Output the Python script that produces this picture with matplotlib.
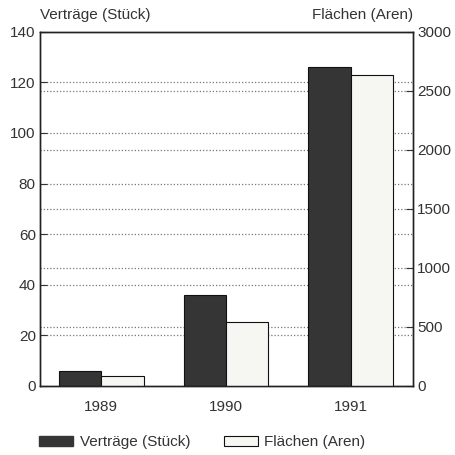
import matplotlib.pyplot as plt
import matplotlib.transforms as mtransforms
from matplotlib.patches import Patch
import numpy as np

# data
years = ["1989", "1990", "1991"]
vertraege = [6, 36, 126]          # Stück, left axis
flaechen = [87, 545, 2636]        # Aren, right axis
left_ticks = [0, 20, 40, 60, 80, 100, 120, 140]
right_ticks = [0, 500, 1000, 1500, 2000, 2500, 3000]

plt.rcParams["font.family"] = ["Liberation Sans", "DejaVu Sans"]
text_col = "#333333"
dark = "#353535"
light = "#f6f6f2"
fs = 11

fig = plt.figure(figsize=(4.55, 4.55), dpi=100)
ax = fig.add_axes([0.088, 0.152, 0.82, 0.778])
ax2 = ax.twinx()

x = np.arange(len(years))
w = 0.34

ax.set_xlim(-0.49, 2.5)
ax.set_ylim(0, 140)
ax2.set_ylim(0, 3000)

# dotted grid for both scales, under the bars
dot = dict(color="#777777", linewidth=0.9, linestyle=(0, (1, 1.6)), zorder=0.5)
for v in left_ticks[1:-1]:
    ax.axhline(v, **dot)
blend = mtransforms.blended_transform_factory(ax.transAxes, ax2.transData)
for v in right_ticks[1:-1]:
    ax.plot([0, 1], [v, v], transform=blend, **dot)

ax.bar(x - w / 2, vertraege, width=w, color=dark, edgecolor="#111111",
       linewidth=0.8, zorder=2)
ax2.bar(x + w / 2, flaechen, width=w, color=light, edgecolor="#111111",
        linewidth=0.8, zorder=2)

ax.set_xticks(x)
ax.set_xticklabels(years)
ax.set_yticks(left_ticks)
ax2.set_yticks(right_ticks)

for a in (ax, ax2):
    for s in a.spines.values():
        s.set_linewidth(1.0)
        s.set_color("#222222")
    a.tick_params(labelsize=fs, colors=text_col, direction="in", length=5,
                  width=0.8)
ax.tick_params(axis="x", length=0, pad=10)
ax.tick_params(axis="y", pad=3)
ax2.tick_params(axis="y", pad=3)

fig.text(0.088, 0.952, "Verträge (Stück)", fontsize=fs, color=text_col,
         ha="left", va="bottom")
fig.text(0.907, 0.952, "Flächen (Aren)", fontsize=fs, color=text_col,
         ha="right", va="bottom")

handles = [Patch(facecolor=dark, edgecolor=dark, label="Verträge (Stück)"),
           Patch(facecolor=light, edgecolor="#111111", linewidth=0.8,
                 label="Flächen (Aren)")]
leg = fig.legend(handles=handles, loc="center", bbox_to_anchor=(0.445, 0.028),
                 ncol=2, frameon=False, fontsize=fs, handlelength=2.2,
                 handleheight=0.6, handletextpad=0.45, columnspacing=2.2)
for t in leg.get_texts():
    t.set_color(text_col)

fig.savefig("out.png", dpi=100)
